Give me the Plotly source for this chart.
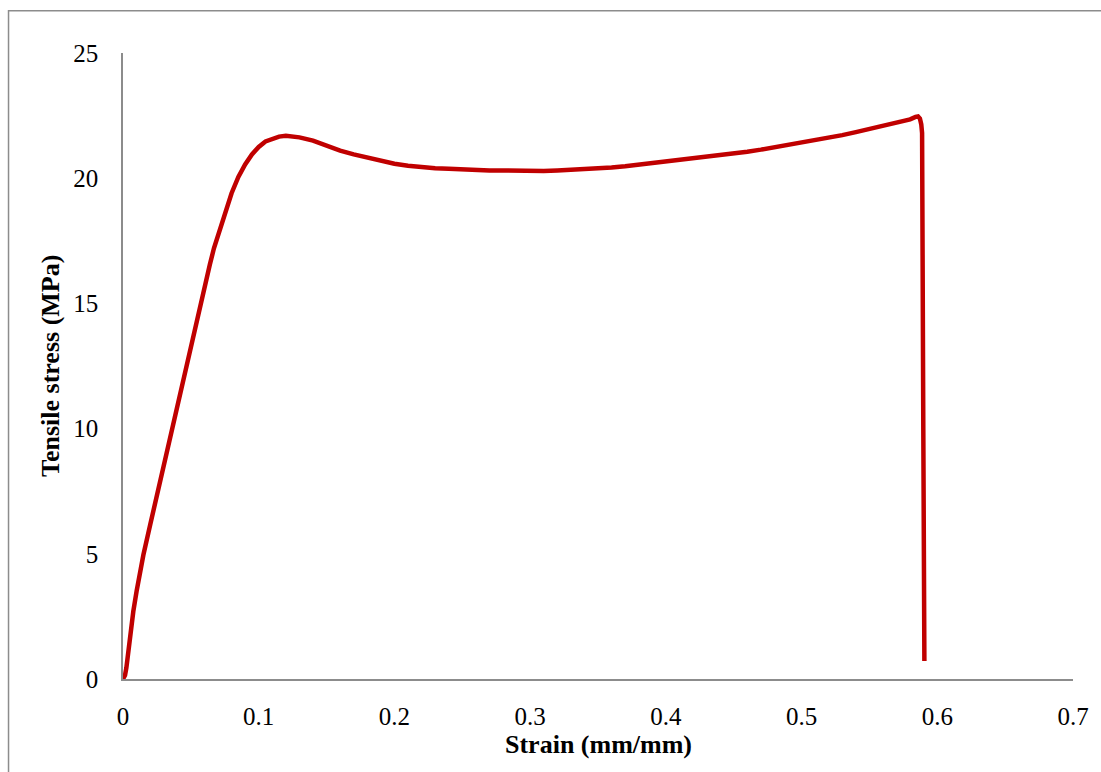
import plotly.graph_objects as go

# Stress-strain curve of the tensile test specimen
strain = [
    0.0, 0.0015, 0.0025, 0.0035, 0.0045, 0.006, 0.0076, 0.010, 0.0125, 0.015,
    0.020, 0.025, 0.030, 0.035, 0.040, 0.045, 0.050, 0.055, 0.060, 0.064,
    0.067, 0.071, 0.075, 0.080, 0.085, 0.090, 0.095, 0.100, 0.105, 0.110,
    0.115, 0.120, 0.125, 0.130, 0.140, 0.150, 0.160, 0.170, 0.180, 0.190,
    0.200, 0.210, 0.220, 0.230, 0.240, 0.250, 0.260, 0.270, 0.280, 0.290,
    0.300, 0.310, 0.320, 0.330, 0.340, 0.350, 0.360, 0.370, 0.380, 0.390,
    0.400, 0.410, 0.420, 0.430, 0.440, 0.450, 0.460, 0.470, 0.480, 0.490,
    0.500, 0.510, 0.520, 0.530, 0.540, 0.550, 0.560, 0.570, 0.580, 0.5840,
    0.5858, 0.5872, 0.5882, 0.5888, 0.5892, 0.5897, 0.5905,
]
stress = [
    0.0, 0.15, 0.45, 0.95, 1.5, 2.1, 2.7, 3.5, 4.25, 4.95,
    6.15, 7.35, 8.55, 9.75, 10.9, 12.05, 13.25, 14.45, 15.6, 16.55,
    17.2, 17.85, 18.55, 19.4, 20.05, 20.55, 20.95, 21.25, 21.47, 21.58,
    21.66, 21.69, 21.68, 21.63, 21.5, 21.3, 21.1, 20.95, 20.82, 20.68,
    20.58, 20.5, 20.43, 20.4, 20.38, 20.35, 20.33, 20.31, 20.31, 20.29,
    20.28, 20.29, 20.31, 20.33, 20.36, 20.39, 20.43, 20.48, 20.54, 20.6,
    20.67, 20.73, 20.8, 20.87, 20.93, 20.99, 21.06, 21.14, 21.23, 21.33,
    21.42, 21.51, 21.61, 21.72, 21.84, 21.97, 22.08, 22.2, 22.35, 22.45,
    22.47, 22.38, 22.15, 21.8, 11.54, 9.94, 0.72,
]

x_ticks = [0, 0.1, 0.2, 0.3, 0.4, 0.5, 0.6, 0.7]
x_tick_text = ["0", "0.1", "0.2", "0.3", "0.4", "0.5", "0.6", "0.7"]
y_ticks = [0, 5, 10, 15, 20, 25]

FONT = "Liberation Serif, Times New Roman, serif"
AXIS_GREY = "#8c8c8c"

fig = go.Figure()
fig.add_trace(go.Scatter(
    x=strain, y=stress, mode="lines",
    line=dict(color="#C00000", width=4.5),
    hoverinfo="x+y", showlegend=False,
))

fig.update_layout(
    width=1101, height=772,
    margin=dict(l=123, r=28, t=53, b=93),
    paper_bgcolor="white", plot_bgcolor="white",
    font=dict(family=FONT, size=25, color="black"),
    xaxis=dict(
        range=[0, 0.7], tickvals=x_ticks, ticktext=x_tick_text,
        showgrid=False, zeroline=False, showline=True,
        linecolor=AXIS_GREY, linewidth=1.5, ticks="",
        ticklabelstandoff=14, automargin=False,
        tickfont=dict(family=FONT, size=25, color="black"),
    ),
    yaxis=dict(
        range=[0, 25], tickvals=y_ticks,
        showgrid=False, zeroline=False, showline=True,
        linecolor=AXIS_GREY, linewidth=1.5, ticks="",
        ticklabelstandoff=18, automargin=False,
        tickfont=dict(family=FONT, size=25, color="black"),
    ),
    annotations=[
        dict(text="<b>Strain (mm/mm)</b>", xref="paper", yref="paper",
             x=0.5, y=-0.1054, xanchor="center", yanchor="middle",
             showarrow=False, font=dict(family=FONT, size=26, color="black")),
        dict(text="<b>Tensile stress (MPa)</b>", xref="paper", yref="paper",
             x=-0.0768, y=0.5, xanchor="center", yanchor="middle", textangle=-90,
             showarrow=False, font=dict(family=FONT, size=26, color="black")),
    ],
    shapes=[
        dict(type="rect", xref="paper", yref="paper",
             x0=-0.1205, x1=1.1, y0=-0.2, y1=1.0675,
             line=dict(color=AXIS_GREY, width=1.5), layer="below"),
    ],
)

fig.write_html("out.html")
